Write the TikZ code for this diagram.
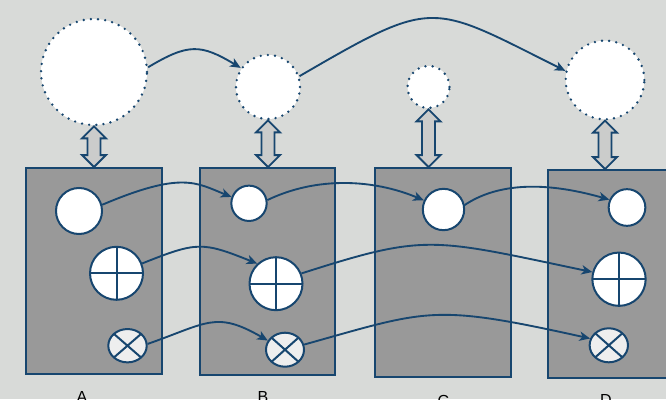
\documentclass[tikz,border=0pt]{standalone}
\usepackage{fontspec}
\usetikzlibrary{arrows.meta,shapes.geometric,calc}
\definecolor{navy}{HTML}{17466F}
\definecolor{bg}{HTML}{D8DAD8}
\definecolor{boxgray}{HTML}{999999}
\definecolor{dblgray}{HTML}{CBCCCB}
\definecolor{xfill}{HTML}{EEEEEE}
\newfontfamily\labelfont{Liberation Sans}
\newcommand\dblarr[2]{%
  \draw[dblstyle] (#1.south) -- ++(12,12) -- ++(-5.5,0)
    -- ($(#1.south |- #2.north)+(6.5,-12)$) -- ++(5.5,0)
    -- (#1.south |- #2.north) -- ++(-12,-12) -- ++(5.5,0)
    -- ($(#1.south)+(-6.5,12)$) -- ++(-5.5,0) -- cycle;}
\tikzset{
  panel/.style={rectangle, draw=navy, fill=boxgray, line width=1.4pt, inner sep=0pt},
  dotc/.style={circle, fill=white, draw=navy, line width=2pt, dash pattern=on 0pt off 5.4pt, line cap=round, inner sep=0pt},
  plainc/.style={circle, fill=white, draw=navy, line width=1.5pt, inner sep=0pt},
  plusc/.style={plainc, path picture={\draw[navy, line width=1.5pt] (path picture bounding box.north) -- (path picture bounding box.south) (path picture bounding box.west) -- (path picture bounding box.east);}},
  crossc/.style={ellipse, fill=xfill, draw=navy, line width=1.5pt, inner sep=0pt, path picture={\draw[navy, line width=1.5pt] (path picture bounding box.north west) -- (path picture bounding box.south east) (path picture bounding box.south west) -- (path picture bounding box.north east);}},
  dblstyle/.style={draw=navy, fill=dblgray, line width=1.4pt, line join=miter},
  flow/.style={draw=navy, line width=1.4pt, -{Stealth[length=8pt,width=7pt,inset=2.2pt]}},
  lbl/.style={font=\labelfont\fontsize{12}{14}\selectfont, text=black, inner sep=0pt, anchor=base}
}
\begin{document}
\begin{tikzpicture}[x=0.75pt,y=-0.75pt]
\useasboundingbox (0,0) rectangle (666,399);
\clip (0,0) rectangle (666,399);
\fill[bg] (0,0) rectangle (666,399);

% panels
\node[panel, minimum width=102pt, minimum height=154.5pt] (bA) at (94,271) {};
\node[panel, minimum width=101.25pt, minimum height=155.25pt] (bB) at (267.5,271.5) {};
\node[panel, minimum width=102pt, minimum height=156.75pt] (bC) at (443,272.5) {};
\node[panel, minimum width=102pt, minimum height=156pt] (bD) at (616,274) {};

% top circles
\node[dotc, minimum size=79.5pt] (tA) at (94,72) {};
\node[dotc, minimum size=48pt] (tB) at (268,87) {};
\node[dotc, minimum size=31.5pt] (tC) at (428.5,87) {};
\node[dotc, minimum size=59pt] (tD) at (605,80) {};

% double arrows
\dblarr{tA}{bA}
\dblarr{tB}{bB}
\dblarr{tC}{bC}
\dblarr{tD}{bD}

% inner elements
\node[plainc, minimum size=34.5pt] (a1) at (79,211) {};
\node[plusc, minimum size=39.75pt] (a2) at (116.5,273.3) {};
\node[crossc, minimum width=28.8pt, minimum height=25pt] (a3) at (127.5,345.7) {};
\node[plainc, minimum size=26.5pt] (b1) at (249,203.3) {};
\node[plusc, minimum size=39.75pt] (b2) at (276,283.7) {};
\node[crossc, minimum width=28.5pt, minimum height=25.5pt] (b3) at (285,349.7) {};
\node[plainc, minimum size=31pt] (c1) at (443.5,209.5) {};
\node[plainc, minimum size=27.5pt] (d1) at (627,207.5) {};
\node[plusc, minimum size=40pt] (d2) at (619,279.2) {};
\node[crossc, minimum width=28.75pt, minimum height=25.5pt] (d3) at (608.8,345.3) {};

% connectors
\draw[flow] (tA.5) .. controls +(40,-24) and +(-40,-24) .. (tB.145);
\draw[flow] (tB.19) .. controls +(136,-79) and +(-136,-68) .. (tD.167);

\draw[flow] (a1.15) .. controls +(80,-34) and +(-35,-14) .. (b1.160);
\draw[flow] (b1.10) .. controls +(50,-24) and +(-50,-21) .. (c1.155);
\draw[flow] (c1.12) .. controls +(30,-20) and +(-70,-20) .. (d1.156);

\draw[flow] (a2.21) .. controls +(55,-22) and +(-55,-22) .. (b2.133);
\draw[flow] (b2.22) .. controls +(125,-40) and +(-162,-34) .. (d2.165);

\draw[flow] (a3.5) .. controls +(60,-21) and +(-52,-30) .. (b3.152);
\draw[flow] (b3.15) .. controls +(125,-35) and +(-158,-35) .. (d3.160);

% labels (cut by the lower edge, as in the reference)
\node[lbl] (lA) at (82,402) {A};
\node[lbl] (lB) at (263,402) {B};
\node[lbl] (lC) at (443.5,406.5) {C};
\node[lbl] (lD) at (606,405.5) {D};
\end{tikzpicture}
\end{document}
